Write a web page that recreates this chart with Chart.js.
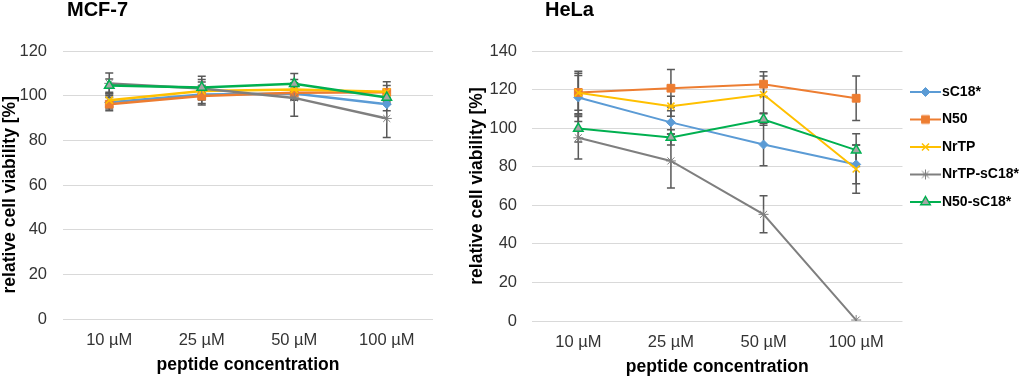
<!DOCTYPE html>
<html><head><meta charset="utf-8">
<script src="https://cdn.jsdelivr.net/npm/chart.js@4/dist/chart.umd.min.js"></script>
<style>
html,body{margin:0;padding:0;background:#fff;width:1024px;height:379px;overflow:hidden;position:relative}
#w1{position:absolute;left:0;top:0;width:455px;height:379px}
#w2{position:absolute;left:455px;top:0;width:574px;height:379px}
</style></head><body>
<div id="w1"><canvas id="c1"></canvas></div>
<div id="w2"><canvas id="c2"></canvas></div>
<script>
// ---- data ----
const categories = ['10 µM', '25 µM', '50 µM', '100 µM'];
const seriesNames = ['sC18*', 'N50', 'NrTP', 'NrTP-sC18*', 'N50-sC18*'];
const mcfYTicks = [0, 20, 40, 60, 80, 100, 120];
const helaYTicks = [0, 20, 40, 60, 80, 100, 120, 140];

// MCF-7 means and error (±)
const mcf_sC18 = [97.0, 100.5, 101.0, 96.2];
const mcf_sC18_err = [3, 4, 3, 3];
const mcf_N50 = [96.2, 99.8, 101.3, 101.5];
const mcf_N50_err = [3, 4, 3, 3];
const mcf_NrTP = [98.0, 102.1, 102.8, 101.7];
const mcf_NrTP_err = [3, 4, 3, 4.5];
const mcf_NrTPsC18 = [105.5, 103.2, 99.0, 89.8];
const mcf_NrTPsC18_err = [4.7, 4, 8.2, 8.5];
const mcf_N50sC18 = [104.5, 103.7, 105.3, 99.2];
const mcf_N50sC18_err = [3, 5, 4.6, 3];

// HeLa means and error (±)
const hela_sC18 = [115.9, 103.0, 91.5, 81.2];
const hela_sC18_err = [12.5, 6, 11, 10];
const hela_N50 = [118.5, 120.7, 122.8, 115.5];
const hela_N50_err = [11, 9.7, 6.4, 11.5];
const hela_NrTP = [118.3, 111.4, 117.4, 78.8];
const hela_NrTP_err = [9, 5.2, 9.6, 12.5];
const hela_NrTPsC18 = [95.0, 83.0, 55.3, 0.5];
const hela_NrTPsC18_err = [11, 14, 9.6, 0];
const hela_N50sC18 = [99.8, 95.2, 104.5, 88.6];
const hela_N50sC18_err = [7, 4, 3, 8.5];

// ---- styles ----
const FONT = "'Liberation Sans', Arial, Helvetica, sans-serif";
Chart.defaults.font.family = FONT;
const styles = [
  {color: '#5B9BD5', fill: '#5B9BD5', point: 'rectRot', r: 4.5, bw: 1},
  {color: '#ED7D31', fill: '#ED7D31', point: 'rect', r: 5.5, bw: 1},
  {color: '#FFC000', fill: '#FFC000', point: 'crossRot', r: 5, bw: 1.5},
  {color: '#7F7F7F', fill: '#7F7F7F', point: 'star', r: 5, bw: 1},
  {color: '#00B050', fill: '#A5A5A5', point: 'triangle', r: 5.5, bw: 1.5}
];

function drawMarker(ctx, st, x, y) {
  const r = st.r;
  ctx.save();
  ctx.fillStyle = st.fill; ctx.strokeStyle = st.color; ctx.lineWidth = st.bw;
  ctx.beginPath();
  if (st.point === 'rectRot') {
    ctx.moveTo(x, y - r); ctx.lineTo(x + r, y); ctx.lineTo(x, y + r); ctx.lineTo(x - r, y); ctx.closePath();
    ctx.fill(); ctx.stroke();
  } else if (st.point === 'rect') {
    const s = r * Math.SQRT1_2; ctx.rect(x - s, y - s, 2 * s, 2 * s); ctx.fill(); ctx.stroke();
  } else if (st.point === 'crossRot') {
    const d = r * Math.SQRT1_2;
    ctx.moveTo(x - d, y - d); ctx.lineTo(x + d, y + d); ctx.moveTo(x - d, y + d); ctx.lineTo(x + d, y - d); ctx.stroke();
  } else if (st.point === 'star') {
    const d = r * Math.SQRT1_2;
    ctx.moveTo(x - d, y - d); ctx.lineTo(x + d, y + d); ctx.moveTo(x - d, y + d); ctx.lineTo(x + d, y - d);
    ctx.moveTo(x, y - r); ctx.lineTo(x, y + r); ctx.stroke();
  } else if (st.point === 'triangle') {
    ctx.moveTo(x, y - r); ctx.lineTo(x + r * 0.866, y + r * 0.5); ctx.lineTo(x - r * 0.866, y + r * 0.5); ctx.closePath();
    ctx.fill(); ctx.stroke();
  }
  ctx.restore();
}

const legendIcons = styles.map(st => {
  const c = document.createElement('canvas');
  c.width = 31; c.height = 14;
  const ctx = c.getContext('2d');
  ctx.strokeStyle = st.color; ctx.lineWidth = 2;
  ctx.beginPath(); ctx.moveTo(0, 7); ctx.lineTo(31, 7); ctx.stroke();
  drawMarker(ctx, st, 15.5, 7);
  return c;
});

// error bars drawn through the library's y scale
const errorBars = {
  id: 'errorBars',
  beforeDatasetsDraw(chart) {
    const ctx = chart.ctx, ys = chart.scales.y;
    chart.data.datasets.forEach((ds, i) => {
      const meta = chart.getDatasetMeta(i);
      meta.data.forEach((pt, j) => {
        const e = ds.errors[j];
        if (!e) return;
        const v = ds.data[j];
        const yt = ys.getPixelForValue(v + e), yb = ys.getPixelForValue(v - e);
        ctx.save();
        ctx.strokeStyle = '#595959'; ctx.lineWidth = 1.5;
        ctx.beginPath();
        ctx.moveTo(pt.x, yt); ctx.lineTo(pt.x, yb);
        ctx.moveTo(pt.x - 4, yt); ctx.lineTo(pt.x + 4, yt);
        ctx.moveTo(pt.x - 4, yb); ctx.lineTo(pt.x + 4, yb);
        ctx.stroke(); ctx.restore();
      });
    });
  }
};

const titleShift = {
  id: 'titleShift',
  afterLayout(chart, args, opts) {
    if (chart.titleBlock) { chart.titleBlock.left = opts.x; }
  }
};

function makeDatasets(values, errs, lw) {
  return values.map((vals, i) => ({
    label: seriesNames[i],
    data: vals,
    errors: errs[i],
    borderColor: styles[i].color,
    backgroundColor: styles[i].fill,
    pointBorderColor: styles[i].color,
    pointBackgroundColor: styles[i].fill,
    pointStyle: styles[i].point,
    pointRadius: styles[i].r,
    pointBorderWidth: styles[i].bw,
    borderWidth: lw,
    tension: 0,
    fill: false,
    order: seriesNames.length - 1 - i
  }));
}

function makeOptions(cfg) {
  return {
    responsive: true, maintainAspectRatio: false, animation: false,
    layout: {padding: {left: 0, right: cfg.padRight, top: 0, bottom: 0}},
    plugins: {
      tooltip: {enabled: false},
      titleShift: {x: cfg.titleX},
      title: {display: true, text: cfg.title, align: 'start', color: '#000',
        font: {size: 20, weight: 'bold', lineHeight: 1}, padding: {top: 0, bottom: cfg.chartTop - 20}},
      legend: cfg.legend ? {
        display: true, position: 'right', align: 'start',
        title: {display: true, text: '', font: {size: 10, lineHeight: 1}, padding: {top: 61.5, bottom: 0}},
        labels: {
          usePointStyle: true, pointStyleWidth: 19, padding: 13.5, color: '#000',
          font: {size: 14, weight: 'bold'},
          generateLabels: chart => chart.data.datasets.map((ds, i) => ({
            text: ds.label, pointStyle: legendIcons[i], fillStyle: 'rgba(0,0,0,0)',
            strokeStyle: 'rgba(0,0,0,0)', lineWidth: 0, hidden: false, datasetIndex: i, fontColor: '#000'
          }))
        }
      } : {display: false}
    },
    scales: {
      x: {
        type: 'category', labels: categories, offset: true,
        grid: {display: false, drawTicks: false}, border: {display: false},
        ticks: {padding: cfg.xTickPad, color: '#333333', font: {size: 16.5}, maxRotation: 0, autoSkip: false},
        title: {display: true, text: 'peptide concentration', color: '#000',
          font: {size: 17.5, weight: 'bold', lineHeight: 1.2}, padding: {top: 0, bottom: cfg.xTitlePad}},
        afterFit: s => { s.height = cfg.xHeight; }
      },
      y: {
        min: 0, max: cfg.yTicks[cfg.yTicks.length - 1],
        afterBuildTicks: s => { s.ticks = cfg.yTicks.map(v => ({value: v})); },
        grid: {color: '#D9D9D9', lineWidth: 1, drawTicks: false}, border: {display: false},
        ticks: {padding: cfg.yTickPad, color: '#333333', font: {size: 16.5}},
        title: {display: true, text: cfg.yTitle, color: '#000',
          font: {size: 17.5, weight: 'bold', lineHeight: 1.2}, padding: {top: cfg.yTitlePad, bottom: 0}},
        afterFit: s => { s.width = cfg.yWidth; }
      }
    }
  };
}

const yTitleText = 'relative cell viability [%]';

new Chart(document.getElementById('c1'), {
  type: 'line',
  data: {labels: categories, datasets: makeDatasets(
    [mcf_sC18, mcf_N50, mcf_NrTP, mcf_NrTPsC18, mcf_N50sC18],
    [mcf_sC18_err, mcf_N50_err, mcf_NrTP_err, mcf_NrTPsC18_err, mcf_N50sC18_err], 2.5)},
  options: makeOptions({title: 'MCF-7', titleX: 67, chartTop: 51, padRight: 22, legend: false,
    yTitle: yTitleText + '\u00A0\u00A0\u00A0\u00A0',
    xTickPad: 12, xTitlePad: 3.5, xHeight: 60, yTickPad: 16, yTitlePad: 0, yWidth: 63, yTicks: mcfYTicks}),
  plugins: [errorBars, titleShift]
});

new Chart(document.getElementById('c2'), {
  type: 'line',
  data: {labels: categories, datasets: makeDatasets(
    [hela_sC18, hela_N50, hela_NrTP, hela_NrTPsC18, hela_N50sC18],
    [hela_sC18_err, hela_N50_err, hela_NrTP_err, hela_NrTPsC18_err, hela_N50sC18_err], 2)},
  options: makeOptions({title: 'HeLa', titleX: 90, chartTop: 51, padRight: 0, legend: true,
    yTitle: yTitleText,
    xTickPad: 11.6, xTitlePad: 1.5, xHeight: 58, yTickPad: 15, yTitlePad: 11.5, yWidth: 77, yTicks: helaYTicks}),
  plugins: [errorBars, titleShift]
});
</script>
</body></html>
